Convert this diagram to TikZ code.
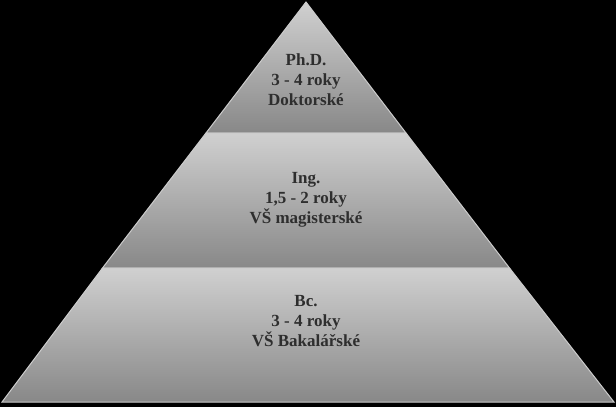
\documentclass[tikz,border=0pt]{standalone}
\usepackage{fontspec}
\setmainfont{Liberation Serif}
\usetikzlibrary{positioning}
\definecolor{bandtop}{HTML}{D0D0D0}
\definecolor{bandbot}{HTML}{888888}
\definecolor{labelgray}{HTML}{2E2E2E}
\tikzset{band/.style={top color=bandtop, bottom color=bandbot, draw=gray!40, line width=1pt}}
\tikzset{label/.style={align=center, font=\bfseries\fontsize{17}{20}\selectfont, text=labelgray}}

\begin{document}
\begin{tikzpicture}[x=1pt,y=-1pt]
    \fill[black] (0,0) rectangle (616,407);
    \useasboundingbox (0,0) rectangle (616,407);
    % layers of the pyramid
    \draw [band] (306,2) -- (406,133) -- (206,133) -- cycle;
    \draw [band] (206,133) -- (406,133) -- (509.5,268) -- (102.5,268) -- cycle;
    \draw [band] (102.5,268) -- (509.5,268) -- (614,402) -- (2,402) -- cycle;

    \node (phd) [label] at (306,80)  {Ph.D.\\3 - 4 roky\\Doktorské};
    \node (ing) [label] at (306,200) {Ing.\\1,5 - 2 roky\\VŠ magisterské};
    \node (bc)  [label] at (306,321) {Bc.\\3 - 4 roky\\VŠ Bakalářské};
\end{tikzpicture}
\end{document}
